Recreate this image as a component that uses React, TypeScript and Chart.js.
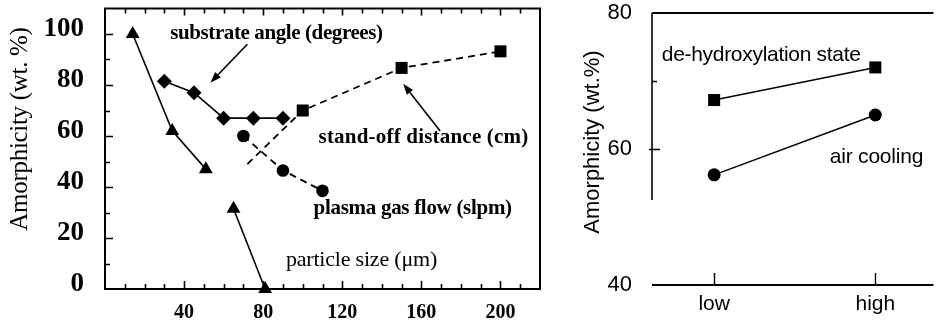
import React, { useEffect, useRef } from 'react';
import { Chart, registerables } from 'chart.js';

Chart.register(...registerables);

// ---------- Left panel data ----------
const particleSizeX = [14, 34, 51, 65, 81];
const particleSizeY = [100, 62, 47, 31.5, 0];
const substrateAngleX = [30, 45, 60, 75, 90];
const substrateAngleY = [81.5, 77, 67, 67, 67];
const standOffX = [72, 100, 150, 200]; // first point lies under the erased patch
const standOffY = [49, 70, 86.7, 93.2];
const plasmaGasX = [70, 90, 110];
const plasmaGasY = [60, 46.5, 38.5];

const leftXTickLabels = [40, 80, 120, 160, 200];
const leftYTickLabels = [0, 20, 40, 60, 80, 100];

// ---------- Right panel data ----------
const rightCategories = ['low', 'high'];
const dehydroxylation = [67.2, 72];
const airCooling = [56.2, 65];
const rightYTickLabels = [40, 60, 80];

const SERIF = "'Liberation Serif', 'Times New Roman', serif";
const SANS = "'Liberation Sans', Arial, sans-serif";

type Note = { text: string; x: number; y: number; font: string; spacing?: string };
type Arrow = { from: [number, number]; to: [number, number] };

const leftNotes: Note[] = [
  { text: 'substrate angle (degrees)', x: 33, y: 100, font: `bold 21px ${SERIF}`, spacing: '-0.4px' },
  { text: 'stand-off distance (cm)', x: 108, y: 59.4, font: `bold 21px ${SERIF}`, spacing: '0.2px' },
  { text: 'plasma gas flow (slpm)', x: 105.5, y: 31.5, font: `bold 21px ${SERIF}`, spacing: '-0.3px' },
  { text: 'particle size (μm)', x: 91.5, y: 11.3, font: `22px ${SERIF}`, spacing: '-0.2px' },
];
const leftArrows: Arrow[] = [
  { from: [72, 96], to: [53.3, 80.9] },
  { from: [169.5, 62], to: [150.8, 80.5] },
];
const rightNotes: Note[] = [
  { text: 'de-hydroxylation state', x: -0.325, y: 73.8, font: `21px ${SANS}`, spacing: '-0.3px' },
  { text: 'air cooling', x: 0.717, y: 58.8, font: `21px ${SANS}`, spacing: '-0.2px' },
];

function drawNotes(chart: any, notes: Note[]) {
  const { ctx, scales } = chart;
  ctx.save();
  ctx.fillStyle = '#000';
  ctx.textAlign = 'left';
  ctx.textBaseline = 'middle';
  notes.forEach((n) => {
    ctx.font = n.font;
    (ctx as any).letterSpacing = n.spacing || '0px';
    ctx.fillText(n.text, scales.x.getPixelForValue(n.x), scales.y.getPixelForValue(n.y));
  });
  (ctx as any).letterSpacing = '0px';
  ctx.restore();
}

function drawArrows(chart: any, arrows: Arrow[]) {
  const { ctx, scales } = chart;
  ctx.save();
  ctx.setLineDash([]);
  ctx.strokeStyle = '#000';
  ctx.fillStyle = '#000';
  ctx.lineWidth = 1.6;
  arrows.forEach((a) => {
    const x1 = scales.x.getPixelForValue(a.from[0]);
    const y1 = scales.y.getPixelForValue(a.from[1]);
    const x2 = scales.x.getPixelForValue(a.to[0]);
    const y2 = scales.y.getPixelForValue(a.to[1]);
    const ang = Math.atan2(y2 - y1, x2 - x1);
    const hl = 11;
    const hw = 4;
    const bx = x2 - Math.cos(ang) * hl;
    const by = y2 - Math.sin(ang) * hl;
    ctx.beginPath();
    ctx.moveTo(x1, y1);
    ctx.lineTo(bx, by);
    ctx.stroke();
    ctx.beginPath();
    ctx.moveTo(x2, y2);
    ctx.lineTo(bx + Math.sin(ang) * hw, by - Math.cos(ang) * hw);
    ctx.lineTo(bx - Math.sin(ang) * hw, by + Math.cos(ang) * hw);
    ctx.closePath();
    ctx.fill();
  });
  ctx.restore();
}

function drawRotated(ctx: CanvasRenderingContext2D, text: string, x: number, y: number, font: string, spacing = '0px') {
  ctx.save();
  ctx.translate(x, y);
  ctx.rotate(-Math.PI / 2);
  ctx.font = font;
  (ctx as any).letterSpacing = spacing;
  ctx.fillStyle = '#000';
  ctx.textAlign = 'center';
  ctx.textBaseline = 'middle';
  ctx.fillText(text, 0, 0);
  ctx.restore();
}

const leftDecor = {
  id: 'leftDecor',
  afterDraw(chart: any) {
    const { ctx, chartArea: a, scales } = chart;
    const xs = scales.x;
    const ys = scales.y;
    ctx.save();
    ctx.setLineDash([]);
    ctx.globalAlpha = 1;
    ctx.strokeStyle = '#000';
    ctx.lineWidth = 2;
    ctx.beginPath();
    ctx.moveTo(a.left, a.top);
    ctx.lineTo(a.right, a.top);
    ctx.lineTo(a.right, a.bottom);
    ctx.lineTo(a.left, a.bottom);
    ctx.closePath();
    ctx.stroke();
    ctx.lineWidth = 1.6;
    ctx.beginPath();
    xs.ticks.forEach((t: any) => {
      const px = Math.round(xs.getPixelForValue(t.value)) + 0.5;
      if (px <= a.left + 2 || px >= a.right - 2) return;
      const major = leftXTickLabels.includes(t.value);
      ctx.moveTo(px, a.bottom);
      ctx.lineTo(px, a.bottom - (major ? 8 : 5));
      ctx.moveTo(px, a.top);
      ctx.lineTo(px, a.top + (major ? 7 : 5));
    });
    ys.ticks.forEach((t: any) => {
      const py = Math.round(ys.getPixelForValue(t.value)) + 0.5;
      if (py <= a.top + 2 || py >= a.bottom - 2) return;
      const major = leftYTickLabels.includes(t.value);
      ctx.moveTo(a.left, py);
      ctx.lineTo(a.left + (major ? 8 : 5), py);
    });
    ctx.stroke();
    ctx.restore();
    drawArrows(chart, leftArrows);
    drawNotes(chart, leftNotes);
    drawRotated(ctx, 'Amorphicity (wt. %)', 20, 129, `25px ${SERIF}`, '-0.3px');
  },
};

const rightDecor = {
  id: 'rightDecor',
  afterDraw(chart: any) {
    const { ctx, chartArea: a, scales } = chart;
    const xs = scales.x;
    const ys = scales.y;
    ctx.save();
    ctx.setLineDash([]);
    ctx.strokeStyle = '#000';
    ctx.lineWidth = 2;
    ctx.beginPath();
    ctx.moveTo(a.left, a.top);
    ctx.lineTo(a.right, a.top);
    ctx.moveTo(a.left, a.bottom);
    ctx.lineTo(a.right, a.bottom);
    ctx.stroke();
    ctx.lineWidth = 1.6;
    ctx.beginPath();
    ctx.moveTo(a.left, a.top);
    ctx.lineTo(a.left, ys.getPixelForValue(52.5));
    ctx.stroke();
    ctx.lineWidth = 1.4;
    ctx.beginPath();
    const p60 = Math.round(ys.getPixelForValue(60)) + 0.5;
    ctx.moveTo(a.left - 3, p60);
    ctx.lineTo(a.left + 8, p60);
    const p70 = Math.round(ys.getPixelForValue(70)) + 0.5;
    ctx.moveTo(a.left, p70);
    ctx.lineTo(a.left + 5, p70);
    rightCategories.forEach((_, i) => {
      const px = Math.round(xs.getPixelForValue(i)) + 0.5;
      ctx.moveTo(px, a.bottom);
      ctx.lineTo(px, a.bottom - 12);
    });
    ctx.stroke();
    ctx.restore();
    drawNotes(chart, rightNotes);
    drawRotated(ctx, 'Amorphicity (wt.%)', 13, 142, `22px ${SANS}`, '0px');
  },
};

const pts = (xs: number[], ys: number[]) => xs.map((x, i) => ({ x, y: ys[i] }));

const noScalePadding = (s: any) => {
  s.paddingTop = 0;
  s.paddingBottom = 0;
  s.paddingLeft = 0;
  s.paddingRight = 0;
};

export default function App() {
  const leftRef = useRef<HTMLCanvasElement>(null);
  const rightRef = useRef<HTMLCanvasElement>(null);

  useEffect(() => {
    const black = '#000';
    const left = new Chart(leftRef.current as HTMLCanvasElement, {
      type: 'line',
      data: {
        datasets: [
          {
            label: 'particle size (μm)',
            data: pts(particleSizeX, particleSizeY),
            borderColor: black,
            backgroundColor: black,
            borderWidth: 1.6,
            pointStyle: 'triangle',
            pointRadius: 8,
            pointBorderWidth: 0,
            clip: false,
            segment: {
              borderColor: (c: any) => (c.p0DataIndex === 2 ? 'rgba(0,0,0,0)' : undefined),
            },
          } as any,
          {
            label: 'substrate angle (degrees)',
            data: pts(substrateAngleX, substrateAngleY),
            borderColor: black,
            backgroundColor: black,
            borderWidth: 1.6,
            pointStyle: 'rectRot',
            pointRadius: 7.5,
            pointBorderWidth: 0,
            clip: false,
          },
          {
            label: 'stand-off distance (cm)',
            data: pts(standOffX, standOffY),
            borderColor: black,
            backgroundColor: black,
            borderWidth: 1.8,
            borderDash: [7, 5],
            pointStyle: 'rect',
            pointRadius: standOffX.map((_, i) => (i === 0 ? 0 : 8.5)),
            pointBorderWidth: 0,
            clip: false,
          },
          {
            label: 'plasma gas flow (slpm)',
            data: pts(plasmaGasX, plasmaGasY),
            borderColor: black,
            backgroundColor: black,
            borderWidth: 1.8,
            borderDash: [7, 5],
            pointStyle: 'circle',
            pointRadius: 6.3,
            pointBorderWidth: 0,
            clip: false,
          },
        ],
      },
      options: {
        responsive: false,
        animation: false,
        devicePixelRatio: 1,
        layout: { padding: { top: 7, right: 25, left: 0, bottom: 0 } },
        plugins: { legend: { display: false }, tooltip: { enabled: false } },
        scales: {
          x: {
            type: 'linear',
            min: 0,
            max: 220,
            grid: { display: false },
            border: { display: false },
            afterFit: (s: any) => {
              s.height = 36;
              noScalePadding(s);
            },
            ticks: {
              stepSize: 10,
              autoSkip: false,
              maxRotation: 0,
              padding: 4,
              color: black,
              font: { family: SERIF, size: 20, weight: 'bold' },
              callback: (v: any) => (leftXTickLabels.includes(v) ? String(v) : ''),
            },
          },
          y: {
            type: 'linear',
            min: 0,
            max: 110,
            grid: { display: false },
            border: { display: false },
            afterFit: (s: any) => {
              s.width = 105;
              noScalePadding(s);
            },
            ticks: {
              stepSize: 10,
              autoSkip: false,
              padding: 13,
              labelOffset: -5,
              color: black,
              font: { family: SERIF, size: 27, weight: 'bold' },
              callback: (v: any) => (leftYTickLabels.includes(v) ? String(v) : ''),
            },
          },
        },
      } as any,
      plugins: [leftDecor],
    });

    const right = new Chart(rightRef.current as HTMLCanvasElement, {
      type: 'line',
      data: {
        datasets: [
          {
            label: 'de-hydroxylation state',
            data: dehydroxylation.map((y, i) => ({ x: i, y })),
            borderColor: black,
            backgroundColor: black,
            borderWidth: 1.5,
            pointStyle: 'rect',
            pointRadius: 8.5,
            pointBorderWidth: 0,
            clip: false,
          },
          {
            label: 'air cooling',
            data: airCooling.map((y, i) => ({ x: i, y })),
            borderColor: black,
            backgroundColor: black,
            borderWidth: 1.5,
            pointStyle: 'circle',
            pointRadius: 6.5,
            pointBorderWidth: 0,
            clip: false,
          },
        ],
      },
      options: {
        responsive: false,
        animation: false,
        devicePixelRatio: 1,
        layout: { padding: { top: 13, right: 0, left: 0, bottom: 0 } },
        plugins: { legend: { display: false }, tooltip: { enabled: false } },
        scales: {
          x: {
            type: 'linear',
            min: -0.3856,
            max: 1.361,
            grid: { display: false },
            border: { display: false },
            afterBuildTicks: (s: any) => {
              s.ticks = rightCategories.map((_, i) => ({ value: i }));
            },
            afterFit: (s: any) => {
              s.height = 40;
              noScalePadding(s);
            },
            ticks: {
              autoSkip: false,
              maxRotation: 0,
              padding: -1,
              color: black,
              font: { family: SANS, size: 21 },
              callback: (v: any) => rightCategories[v] ?? '',
            },
          },
          y: {
            type: 'linear',
            min: 40,
            max: 80,
            grid: { display: false },
            border: { display: false },
            afterFit: (s: any) => {
              s.width = 72;
              noScalePadding(s);
            },
            ticks: {
              stepSize: 10,
              autoSkip: false,
              padding: 12,
              color: black,
              font: { family: SANS, size: 22 },
              callback: (v: any) => (rightYTickLabels.includes(v) ? String(v) : ''),
            },
          },
        },
      } as any,
      plugins: [rightDecor],
    });

    return () => {
      left.destroy();
      right.destroy();
    };
  }, []);

  return (
    <div style={{ position: 'absolute', left: 0, top: 0, width: 942, height: 325, background: '#fff' }}>
      <canvas
        ref={leftRef}
        width={565}
        height={325}
        style={{ position: 'absolute', left: 0, top: 0, width: 565, height: 325 }}
      />
      <canvas
        ref={rightRef}
        width={362}
        height={325}
        style={{ position: 'absolute', left: 580, top: 0, width: 362, height: 325 }}
      />
    </div>
  );
}
